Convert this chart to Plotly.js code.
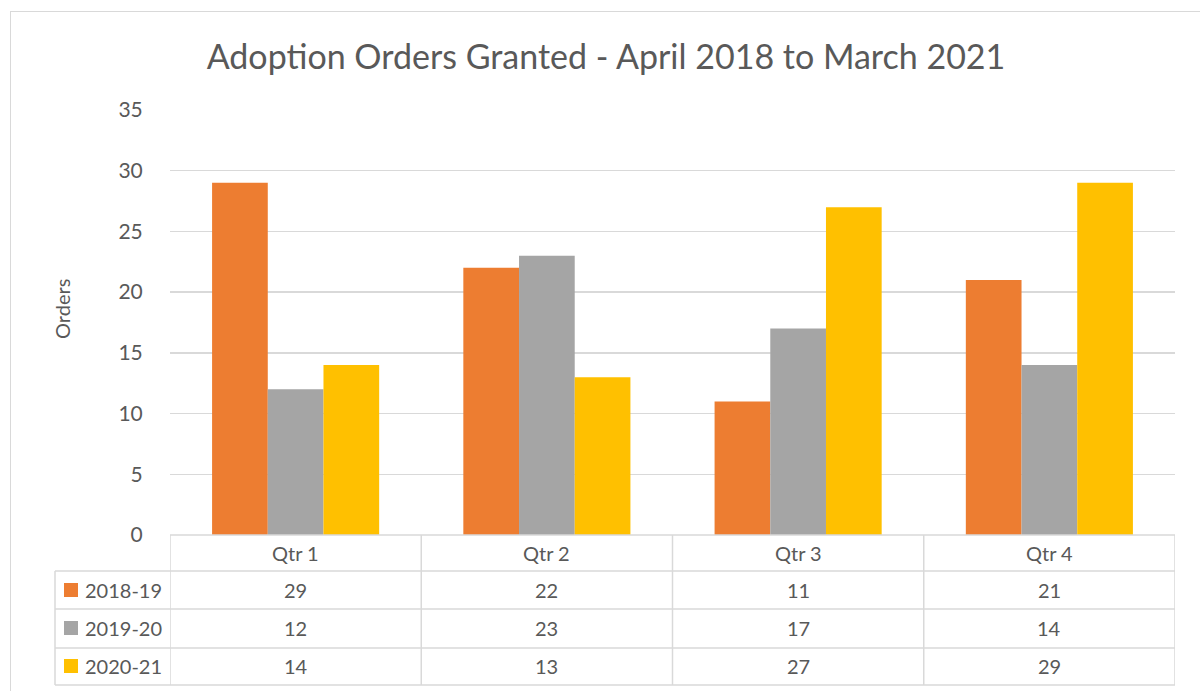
<!DOCTYPE html>
<html>
<head>
<meta charset="utf-8">
<script src="https://cdn.plot.ly/plotly-3.0.1.min.js"></script>
<style>
  html, body { margin: 0; padding: 0; background: #fff; overflow: hidden; }
  #frame { position: absolute; left: 10px; top: 11px; width: 1200px; height: 700px; border: 1.5px solid #D9D9D9; box-sizing: border-box; }
  #chart { position: absolute; left: 0; top: 0; width: 1200px; height: 691px; }
</style>
</head>
<body>
<div id="frame"></div>
<div id="chart"></div>
<script>
const categories = ["Qtr 1", "Qtr 2", "Qtr 3", "Qtr 4"];
const seriesNames = ["2018-19", "2019-20", "2020-21"];
const values2018 = [29, 22, 11, 21];
const values2019 = [12, 23, 17, 14];
const values2020 = [14, 13, 27, 29];
const seriesColors = ["#ED7D31", "#A5A5A5", "#FFC000"];
const yTicks = [0, 5, 10, 15, 20, 25, 30, 35];

const allValues = [values2018, values2019, values2020];
const textColor = "#595959";
const lineColor = "#D9D9D9";
const fontFam = "Lato, 'Open Sans', sans-serif";

const W = 1200, H = 691;
const M = { l: 170, r: 25, t: 110, b: 156 };
const plotW = W - M.l - M.r, plotH = H - M.t - M.b;
const px2x = p => (p - M.l) / plotW;
const py2y = p => (H - M.b - p) / plotH;

const traces = seriesNames.map((name, i) => ({
  type: "bar",
  name: name,
  x: categories,
  y: allValues[i],
  marker: { color: seriesColors[i] },
  hoverinfo: "none"
}));

const shapes = [];
const annotations = [];
const line = { color: lineColor, width: 1.5 };

// Table horizontal lines
shapes.push({ type: "line", xref: "paper", yref: "paper", x0: 0, x1: 1, y0: 0, y1: 0, line });
[571, 609, 648, 685].forEach(p => {
  shapes.push({ type: "line", xref: "paper", yref: "paper", x0: px2x(55), x1: 1, y0: py2y(p), y1: py2y(p), line });
});
// Table vertical lines
shapes.push({ type: "line", xref: "paper", yref: "paper", x0: px2x(55), x1: px2x(55), y0: py2y(571), y1: py2y(685), line });
for (let k = 0; k <= categories.length; k++) {
  shapes.push({ type: "line", xref: "x", yref: "paper", x0: k - 0.5, x1: k - 0.5, y0: 0, y1: py2y(685), line });
}

const rowCenters = [590, 628, 666];
seriesNames.forEach((name, i) => {
  const yc = rowCenters[i];
  shapes.push({ type: "rect", xref: "paper", yref: "paper",
    x0: px2x(64), x1: px2x(78), y0: py2y(yc + 7), y1: py2y(yc - 7),
    fillcolor: seriesColors[i], line: { width: 0 } });
  annotations.push({ xref: "paper", yref: "paper", x: px2x(83), y: py2y(yc),
    xanchor: "left", yanchor: "middle", text: name, showarrow: false,
    font: { family: fontFam, size: 20, color: textColor } });
  categories.forEach((c, j) => {
    annotations.push({ xref: "x", yref: "paper", x: c, y: py2y(yc),
      xanchor: "center", yanchor: "middle", text: String(allValues[i][j]), showarrow: false,
      font: { family: fontFam, size: 20, color: textColor } });
  });
});
// Header row
categories.forEach(c => {
  annotations.push({ xref: "x", yref: "paper", x: c, y: py2y(553),
    xanchor: "center", yanchor: "middle", text: c, showarrow: false,
    font: { family: fontFam, size: 20, color: textColor } });
});
// Y axis title
annotations.push({ xref: "paper", yref: "paper", x: px2x(62), y: py2y(309),
  xanchor: "center", yanchor: "middle", text: "Orders", textangle: -90, showarrow: false,
  font: { family: fontFam, size: 20, color: textColor } });

const layout = {
  width: W, height: H,
  margin: M,
  paper_bgcolor: "rgba(0,0,0,0)",
  plot_bgcolor: "rgba(0,0,0,0)",
  showlegend: false,
  bargap: 0.335,
  bargroupgap: 0,
  title: { text: "Adoption Orders Granted - April 2018 to March 2021",
    font: { family: fontFam, size: 34, color: textColor },
    x: 606 / W, xanchor: "center", y: 1 - 57 / H, yanchor: "middle" },
  xaxis: { type: "category", range: [-0.5, 3.5], showticklabels: false, showgrid: false,
    zeroline: false, showline: false, fixedrange: true },
  yaxis: { range: [0, 35], tickvals: yTicks, showgrid: true, gridcolor: lineColor, gridwidth: 1.5,
    zeroline: false, showline: false, ticks: "outside", ticklen: 22, tickcolor: "rgba(0,0,0,0)",
    tickfont: { family: fontFam, size: 21, color: textColor },
    title: { text: "" },
    fixedrange: true },
  shapes, annotations
};

Plotly.newPlot("chart", traces, layout, { displayModeBar: false, staticPlot: true });
</script>
</body>
</html>
